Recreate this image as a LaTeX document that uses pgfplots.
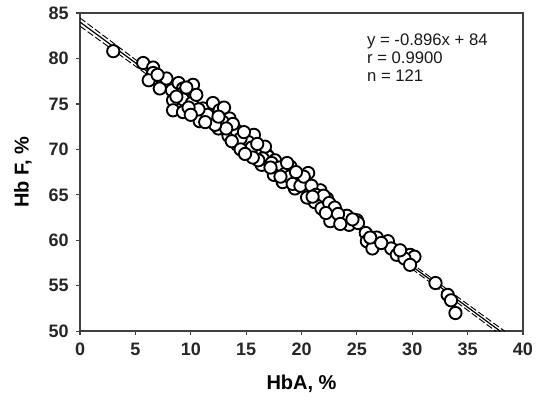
\documentclass[border=0pt]{standalone}
\usepackage{pgfplots}
\pgfplotsset{compat=1.18}
\usepackage{fontspec}
\setmainfont{Liberation Sans}
\usetikzlibrary{calc}

\begin{document}
\begin{tikzpicture}[x=1pt,y=1pt]
\begin{axis}[
    name=main,
    scale only axis,
    width=332pt, height=238.5pt,
    xmin=0, xmax=40, ymin=50, ymax=85,
    xtick={0,5,...,40}, ytick={50,55,...,85},
    tick align=outside,
    major tick length=3pt,
    xtick pos=left, ytick pos=left,
    axis line style={line width=1.1pt, black!75},
    tick style={line width=0.9pt, black!75},
    ticklabel style={font=\fontsize{13.5}{15}\selectfont\bfseries, text=black!85},
    xticklabel style={yshift=-2.5pt},
    yticklabel style={xshift=-2pt},
    /pgf/number format/assume math mode=true,
    xlabel={\fontsize{15}{17}\selectfont\bfseries HbA, \%},
    ylabel={\fontsize{15}{17}\selectfont\bfseries Hb F, \%},
    xlabel style={at={(axis description cs:0.5,-0.165)}, anchor=center},
    ylabel style={at={(axis description cs:-0.129,0.5)}, anchor=center},
    clip=true,
  ]

  % regression line and bands
  \addplot[black, line width=0.9pt] coordinates {(0,84) (37.95,50)};
  \addplot[black, line width=0.7pt, dash pattern=on 5pt off 2pt] coordinates {(0,84.45) (17,68.9) (38.35,50)};
  \addplot[black, line width=0.7pt, dash pattern=on 5pt off 2pt] coordinates {(0,83.55) (17,68.6) (37.55,50)};

  % measured samples
  \addplot[only marks, mark=*, mark size=4.6pt,
    mark options={draw=black, fill=white, line width=1.4pt}] coordinates {
    (3.0,80.8) (5.7,79.5) (6.6,79.0) (6.6,78.4) (6.2,77.6) (7.5,77.3) (7.2,76.7)
    (8.3,76.5) (8.9,77.3) (10.2,77.1) (9.3,76.7) (9.3,76.2) (8.4,75.4) (9.3,75.5)
    (10.1,75.1) (8.4,74.3) (9.3,74.1) (10.8,73.1) (11.1,74.5) (12.0,75.1) (12.6,74.3)
    (11.9,73.4) (13.5,73.4) (12.5,72.3) (13.4,71.5) (14.1,72.1) (14.2,70.5) (15.0,70.5)
    (15.7,71.6) (15.3,69.6) (16.4,68.3) (16.8,69.5) (15.2,70.8) (16.2,69.9) (17.0,69.2)
    (17.6,68.8) (16.7,70.3) (19.0,68.1) (19.7,66.8) (20.6,67.4) (18.3,66.4) (19.4,65.7)
    (20.6,65.5) (21.7,65.5) (22.3,64.6) (21.2,64.2) (21.8,63.5) (22.7,63.1) (22.6,62.1)
    (24.1,62.7) (25.0,62.2) (24.3,61.7) (25.1,61.9) (25.8,60.8) (26.8,60.3) (25.9,59.9)
    (26.4,59.1) (27.8,59.9) (28.1,59.1) (28.6,58.4) (29.8,58.4) (30.2,58.2) (29.3,58.0)
    (29.8,57.3) (32.1,55.3) (33.2,54.0) (33.5,53.4) (33.9,52.0)
    (10.5,76.0) (11.5,73.8) (12.9,73.0) (13.0,74.6) (13.8,72.8) (14.5,71.2) (14.8,71.9)
    (13.7,70.9) (15.5,70.2) (16.0,70.6) (16.5,69.0) (17.3,68.5) (17.8,67.9) (18.0,68.0)
    (18.5,67.3) (18.9,67.0) (19.2,66.2) (19.9,66.0) (20.2,67.0) (20.9,66.0) (21.3,65.0)
    (22.0,64.9) (22.5,64.1) (23.0,63.6) (23.3,62.9) (22.2,63.0) (20.5,64.7) (19.5,67.5)
    (18.7,68.5) (17.5,67.2) (16.1,68.8) (15.6,69.1) (14.5,70.0) (13.2,72.3) (12.2,72.7)
    (11.3,73.0) (10.7,74.4) (9.8,74.6) (9.6,76.8) (8.7,75.8) (7.8,77.8) (7.0,78.2)
    (10.0,73.8) (12.5,73.6) (14.9,69.5) (17.2,68.0) (18.1,67.0) (21.0,64.8) (23.5,61.8)
    (24.6,62.3) (26.2,60.3) (27.2,59.7) (28.9,58.9)
  };

  \node[anchor=north west, align=left, inner sep=0pt,
        font=\fontsize{12.5}{13.5}\selectfont, text=black!90]
    at (axis cs:25.9,82.7) {y = -0.896x + 84\\r = 0.9900\\n = 121};
\end{axis}
\pgfresetboundingbox
\path ($(main.south west)+(-60pt,-54pt)$) rectangle ($(main.north east)+(12.75pt,9.75pt)$);
\end{tikzpicture}
\end{document}
